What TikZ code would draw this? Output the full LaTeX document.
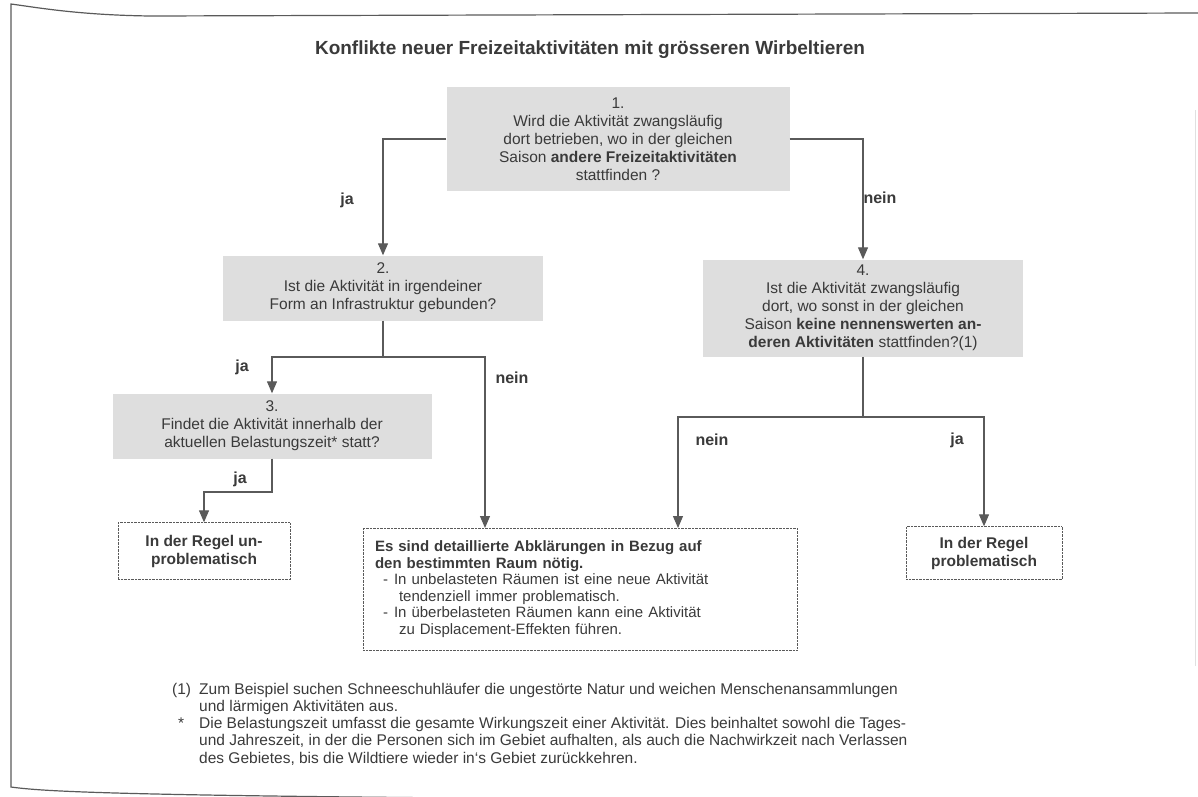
\documentclass[tikz,border=0pt]{standalone}
\usepackage{fontspec}
\setmainfont{Liberation Sans}
\usepackage{tikz}
\usepackage{xcolor}
\usetikzlibrary{arrows.meta}
\definecolor{inkgray}{HTML}{3A3A3A}
\definecolor{boxgray}{HTML}{DEDEDE}
\definecolor{linegray}{HTML}{5A5A5A}

\begin{document}
\begin{tikzpicture}[x=1pt,y=-1pt,
  question/.style={fill=boxgray, align=center, inner sep=0pt, text=inkgray, font=\fontsize{15.5}{18}\selectfont},
  answer/.style={draw=linegray, densely dotted, align=center, inner sep=0pt, text=inkgray, font=\fontsize{15.5}{18}\selectfont\bfseries},
  flow/.style={draw=linegray, line width=1.2pt, -{Triangle[length=12pt,width=10pt]}},
  conn/.style={draw=linegray, line width=1.2pt},
  lbl/.style={text=inkgray, font=\fontsize{16}{18}\selectfont\bfseries}]
\useasboundingbox (0,0) rectangle (1198,796);
% frame
\draw[linegray, line width=1.2pt] (1198,13) -- (150,16) .. controls (80,15) and (40,8) .. (11,4) -- (11,787) .. controls (40,791) and (100,795) .. (460,798);
\draw[black!12, line width=0.6pt] (1195,110) -- (1195,666);
% title
\node[text=inkgray, font=\fontsize{19}{22}\selectfont\bfseries] (title) at (590,50) {Konflikte neuer Freizeitaktivitäten mit grösseren Wirbeltieren};
% questions
\node[question, minimum width=343, minimum height=104] (q1) at (618,139) {1.\\Wird die Aktivität zwangsläufig\\dort betrieben, wo in der gleichen\\Saison \textbf{andere Freizeitaktivitäten}\\stattfinden ?};
\node[question, minimum width=320, minimum height=65] (q2) at (383,288) {2.\\Ist die Aktivität in irgendeiner\\Form an Infrastruktur gebunden?};
\node[question, minimum width=319, minimum height=65] (q3) at (272,426) {3.\\Findet die Aktivität innerhalb der\\aktuellen Belastungszeit* statt?};
\node[question, minimum width=320, minimum height=97] (q4) at (863,308) {4.\\Ist die Aktivität zwangsläufig\\dort, wo sonst in der gleichen\\Saison \textbf{keine nennenswerten an-}\\\textbf{deren Aktivitäten} stattfinden?(1)};
% results
\node[answer, minimum width=172, minimum height=57] (r1) at (204,551) {In der Regel un-\\problematisch};
\node[answer, minimum width=156, minimum height=53] (r3) at (984,553) {In der Regel\\problematisch};
\node[draw=linegray, densely dotted, text=inkgray, align=left, inner xsep=12pt, inner ysep=0pt, text width=410, minimum height=122, font=\fontsize{15}{16.5}\selectfont] (r2) at (580,589) {\textbf{Es sind detaillierte Abklärungen in Bezug auf}\\\textbf{den bestimmten Raum nötig.}\\\hspace*{8pt}-\hspace*{6pt}In unbelasteten Räumen ist eine neue Aktivität\\\hspace*{24pt}tendenziell immer problematisch.\\\hspace*{8pt}-\hspace*{6pt}In überbelasteten Räumen kann eine Aktivität\\\hspace*{24pt}zu Displacement-Effekten führen.};
\coordinate (in1) at (485,528);
\coordinate (in2) at (678,528);
% branches
\coordinate (b2) at (383,357);
\coordinate (b3) at (272,492);
\coordinate (b4) at (863,417);
\draw[flow] (q1.west) -| (q2.north);
\draw[flow] (q1.east) -| (q4.north);
\draw[conn] (q2.south) -- (b2);
\draw[flow] (b2) -| (q3.north);
\draw[flow] (b2) -| (in1);
\draw[flow] (q3.south) -- (b3) -| (r1.north);
\draw[conn] (q4.south) -- (b4);
\draw[flow] (b4) -| (in2);
\draw[flow] (b4) -| (r3.north);
% labels
\node[lbl] (ja1) at (347,200) {ja};
\node[lbl] (nein1) at (880,198) {nein};
\node[lbl] (ja2) at (242,367) {ja};
\node[lbl] (nein2) at (512,378) {nein};
\node[lbl] (ja3) at (240,479) {ja};
\node[lbl] (nein3) at (712,440) {nein};
\node[lbl] (ja4) at (957,440) {ja};
% footnotes
\node[anchor=base west, inner sep=0pt, text=inkgray, font=\fontsize{15.5}{17.3}\selectfont] (notes) at (172,694) {\begin{tabular}[t]{@{}p{27pt}@{}l@{}}
(1) & Zum Beispiel suchen Schneeschuhläufer die ungestörte Natur und weichen Menschenansammlungen\\
 & und lärmigen Aktivitäten aus.\\
\hspace*{6pt}* & Die Belastungszeit umfasst die gesamte Wirkungszeit einer Aktivität. Dies beinhaltet sowohl die Tages-\\
 & und Jahreszeit, in der die Personen sich im Gebiet aufhalten, als auch die Nachwirkzeit nach Verlassen\\
 & des Gebietes, bis die Wildtiere wieder in‘s Gebiet zurückkehren.
\end{tabular}};
\end{tikzpicture}
\end{document}
